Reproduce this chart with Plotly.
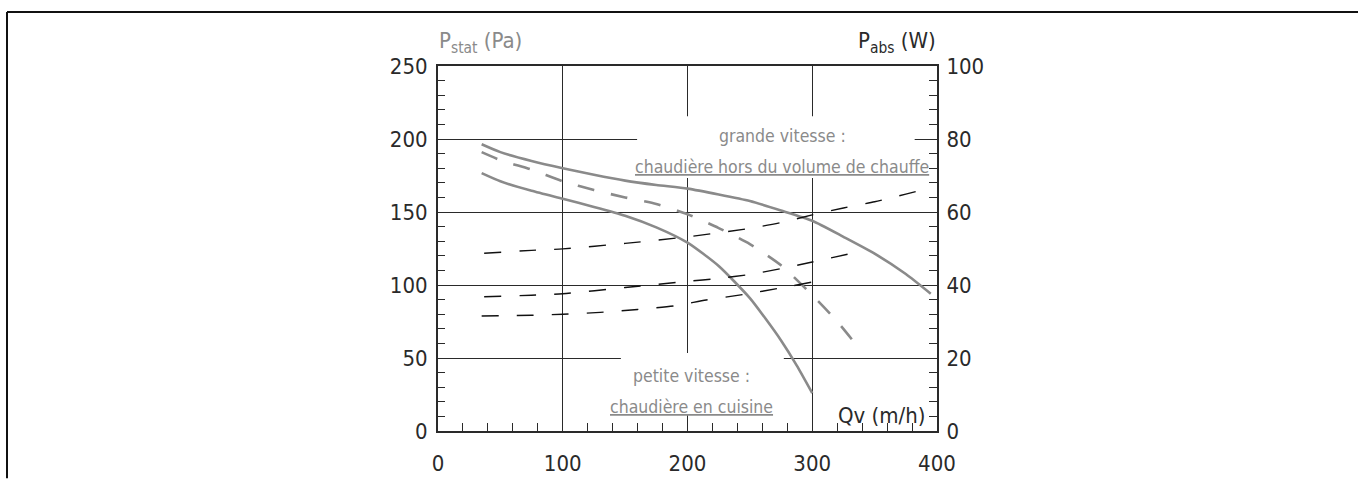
import plotly.graph_objects as go

# ---- data ----
qv_gv = [35, 50, 75, 100, 125, 150, 175, 200, 225, 250, 275, 300, 325, 350, 375, 395]
p_gv = [196.4, 191, 185, 180, 175.5, 171.5, 168.5, 166, 162, 157.5, 151, 144, 133, 121.5, 107.5, 94]

qv_gd = [35, 50, 75, 100, 125, 150, 175, 200, 225, 250, 275, 300, 320, 340]
p_gd = [191, 185.5, 179, 171, 165, 160, 155.5, 148.5, 139, 128, 113.5, 93, 75, 54]

qv_pv = [35, 50, 75, 100, 125, 150, 175, 200, 225, 250, 262.5, 275, 287.5, 300]
p_pv = [176.6, 171, 164.5, 159, 153.5, 147.5, 139.5, 129, 113, 91, 77, 62, 45, 26]

qv_w1 = [37, 75, 100, 150, 200, 250, 275, 300, 325, 350, 375, 394]
w_1 = [48.7, 49.5, 49.9, 51.4, 53.2, 55.5, 57.1, 59.2, 61.1, 62.8, 64.9, 66.5]

qv_w2 = [37, 75, 100, 150, 200, 225, 250, 275, 300, 336]
w_2 = [36.8, 37.2, 37.6, 39.3, 41.0, 41.8, 42.9, 44.5, 46.3, 49.0]

qv_w3 = [35, 75, 100, 130, 160, 190, 215, 245, 275, 300]
w_3 = [31.5, 31.7, 32.0, 32.5, 33.3, 34.3, 35.9, 37.4, 39.2, 40.8]

x_ticks = [0, 100, 200, 300, 400]
y_ticks = [0, 50, 100, 150, 200, 250]
y2_ticks = [0, 20, 40, 60, 80, 100]

GRAY = "#8a8a8a"
DARK = "#2a2a2a"
FONT = "Liberation Sans Narrow, DejaVu Sans Condensed, Roboto, sans-serif"

W, H = 1358, 488
ML, MR, MT, MB = 438, 421, 66, 44
PW = W - ML - MR
PH = H - MT - MB


def px2paper_x(px):
    return (px - ML) / PW


def px2paper_y(py):
    return (H - MB - py) / PH


fig = go.Figure()

spline = dict(shape="spline", smoothing=0.6)

fig.add_trace(go.Scatter(x=qv_gv, y=p_gv, mode="lines",
                         line=dict(color=GRAY, width=2.6, **spline)))
fig.add_trace(go.Scatter(x=qv_gd, y=p_gd, mode="lines",
                         line=dict(color=GRAY, width=2.6, dash="17px,17px", **spline)))
fig.add_trace(go.Scatter(x=qv_pv, y=p_pv, mode="lines",
                         line=dict(color=GRAY, width=2.6, **spline)))
for qx, wy in [(qv_w1, w_1), (qv_w2, w_2), (qv_w3, w_3)]:
    fig.add_trace(go.Scatter(x=qx, y=wy, yaxis="y2", mode="lines",
                             line=dict(color="#111111", width=1.4, dash="17px,18px", **spline)))

tickfont = dict(family=FONT, size=22, color=DARK)

fig.update_layout(
    width=W, height=H,
    margin=dict(l=ML, r=MR, t=MT, b=MB),
    paper_bgcolor="white", plot_bgcolor="white",
    showlegend=False,
    xaxis=dict(range=[0, 400], tickvals=x_ticks, showgrid=True, gridcolor=DARK, gridwidth=1.2,
               zeroline=False, showline=True, linecolor=DARK, linewidth=2, mirror=True,
               ticks="inside", ticklen=8, tickcolor=DARK, tickwidth=1.2,
               minor=dict(dtick=20, ticks="inside", ticklen=8, tickcolor=DARK, tickwidth=1.2, showgrid=False),
               tickfont=tickfont, ticklabelstandoff=12, fixedrange=True),
    yaxis=dict(range=[0, 250], tickvals=y_ticks, showgrid=True, gridcolor=DARK, gridwidth=1.2,
               zeroline=False, showline=True, linecolor=DARK, linewidth=2,
               ticks="inside", ticklen=7, tickcolor=DARK, tickwidth=1.2,
               minor=dict(dtick=10, ticks="inside", ticklen=7, tickcolor=DARK, tickwidth=1.2, showgrid=False),
               tickfont=tickfont, ticklabelstandoff=4, fixedrange=True),
    yaxis2=dict(range=[0, 100], tickvals=y2_ticks, overlaying="y", side="right", showgrid=False,
                zeroline=False, showline=True, linecolor=DARK, linewidth=2,
                ticks="inside", ticklen=8, tickcolor=DARK, tickwidth=1.2,
                minor=dict(dtick=4, ticks="inside", ticklen=8, tickcolor=DARK, tickwidth=1.2, showgrid=False),
                tickfont=tickfont, ticklabelstandoff=3, fixedrange=True),
)

# white boxes that interrupt the gridlines behind the labels
fig.add_shape(type="rect", xref="x", yref="y", x0=159.6, x1=382.1, y0=173.3, y1=215.6,
              fillcolor="white", line=dict(width=0), layer="between")
fig.add_shape(type="rect", xref="x", yref="y", x0=146.6, x1=277.2, y0=11.4, y1=53.4,
              fillcolor="white", line=dict(width=0), layer="between")

# page border (left and top)
fig.add_shape(type="line", xref="paper", yref="paper",
              x0=px2paper_x(7), x1=px2paper_x(7), y0=px2paper_y(10), y1=px2paper_y(H + 5),
              line=dict(color="#111111", width=2))
fig.add_shape(type="line", xref="paper", yref="paper",
              x0=px2paper_x(7), x1=px2paper_x(W + 5), y0=px2paper_y(10), y1=px2paper_y(10),
              line=dict(color="#111111", width=2))

LS = 17.5
labfont = dict(family=FONT, size=LS, color=GRAY)
ul = dict(family=FONT, size=LS, color=GRAY, lineposition="under")

fig.add_annotation(x=275.8, y=202.4, text="grande vitesse :", showarrow=False,
                   xanchor="center", yanchor="middle", font=labfont)
fig.add_annotation(x=275.8, y=180.8, text="chaudière hors du volume de chauffe", showarrow=False,
                   xanchor="center", yanchor="middle", font=ul)
fig.add_annotation(x=203.4, y=37.4, text="petite vitesse :", showarrow=False,
                   xanchor="center", yanchor="middle", font=labfont)
fig.add_annotation(x=203.4, y=16.2, text="chaudière en cuisine", showarrow=False,
                   xanchor="center", yanchor="middle", font=ul)
fig.add_annotation(x=393, y=10.5, text="Qv (m/h)", showarrow=False,
                   xanchor="right", yanchor="middle", font=dict(family=FONT, size=22, color=DARK))

fig.add_annotation(xref="paper", yref="paper", x=px2paper_x(437), y=px2paper_y(42),
                   text="P<sub>stat</sub> (Pa)", showarrow=False, xanchor="left", yanchor="middle",
                   font=dict(family=FONT, size=22, color=GRAY))
fig.add_annotation(xref="paper", yref="paper", x=px2paper_x(938), y=px2paper_y(42),
                   text="P<sub>abs</sub> (W)", showarrow=False, xanchor="right", yanchor="middle",
                   font=dict(family=FONT, size=22, color=DARK))

fig.write_html("out.html", config={"displayModeBar": False},
               post_script="document.body.style.margin='0';")
